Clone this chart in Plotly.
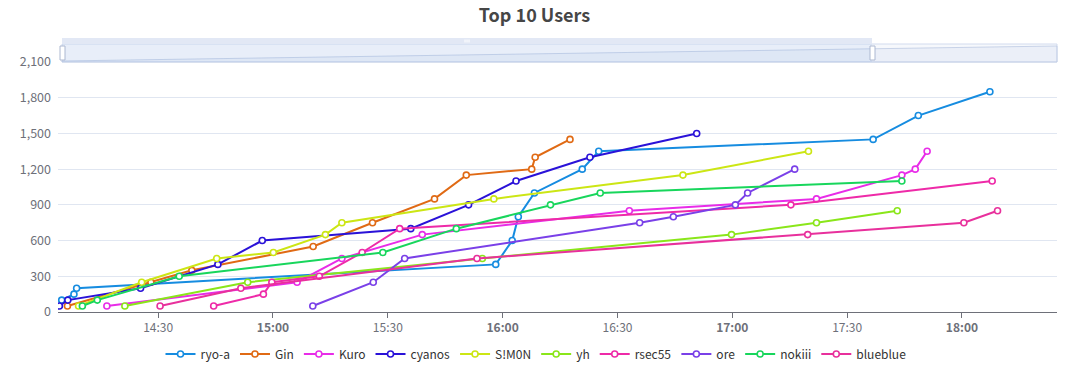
import plotly.graph_objects as go

DAY = "2024-01-01 "

names = ["ryo-a", "Gin", "Kuro", "cyanos", "S!M0N", "yh", "rsec55", "ore", "nokiii", "blueblue"]
colors = ["#168ce0", "#e06a14", "#e82ce8", "#2a12d8", "#cce614", "#8ae61a", "#ee2aa8", "#7a40e8", "#18d65c", "#e8309c"]

ryo_a_t = ["14:04:48", "14:08:00", "14:08:42", "15:58:12", "16:02:30", "16:04:06", "16:08:18", "16:20:48", "16:25:06", "17:36:48", "17:48:36", "18:07:18"]
ryo_a_v = [100, 150, 200, 400, 600, 800, 1000, 1200, 1350, 1450, 1650, 1850]

gin_t = ["14:06:18", "14:28:06", "14:38:48", "15:10:30", "15:26:00", "15:42:12", "15:50:30", "16:07:36", "16:08:30", "16:17:36"]
gin_v = [50, 250, 350, 550, 750, 950, 1150, 1200, 1300, 1450]

kuro_t = ["14:16:36", "15:06:18", "15:18:00", "15:39:00", "16:33:06", "17:22:00", "17:44:18", "17:47:48", "17:50:54"]
kuro_v = [50, 250, 450, 650, 850, 950, 1150, 1200, 1350]

cyanos_t = ["14:04:12", "14:06:24", "14:25:24", "14:45:36", "14:57:12", "15:36:00", "15:51:06", "16:03:30", "16:22:48", "16:50:42"]
cyanos_v = [50, 100, 200, 400, 600, 700, 900, 1100, 1300, 1500]

simon_t = ["14:09:12", "14:25:42", "14:45:18", "15:00:06", "15:13:42", "15:18:00", "15:57:42", "16:47:06", "17:19:54"]
simon_v = [50, 250, 450, 500, 650, 750, 950, 1150, 1350]

yh_t = ["14:21:18", "14:53:24", "15:54:42", "16:59:48", "17:22:00", "17:43:06"]
yh_v = [50, 250, 450, 650, 750, 850]

rsec55_t = ["14:44:30", "14:57:30", "14:59:42", "15:12:06", "15:23:18", "15:33:06", "17:15:18", "18:07:54"]
rsec55_v = [50, 150, 250, 300, 500, 700, 900, 1100]

ore_t = ["15:10:24", "15:26:12", "15:34:24", "16:35:48", "16:44:36", "17:00:48", "17:04:00", "17:16:18"]
ore_v = [50, 250, 450, 750, 800, 900, 1000, 1200]

nokiii_t = ["14:10:12", "14:14:06", "14:35:30", "15:28:42", "15:47:54", "16:12:30", "16:25:30", "17:44:18"]
nokiii_v = [50, 100, 300, 500, 700, 900, 1000, 1100]

blueblue_t = ["14:30:30", "14:51:36", "15:53:18", "17:19:42", "18:00:30", "18:09:18"]
blueblue_v = [50, 200, 450, 650, 750, 850]

series_t = [ryo_a_t, gin_t, kuro_t, cyanos_t, simon_t, yh_t, rsec55_t, ore_t, nokiii_t, blueblue_t]
series_v = [ryo_a_v, gin_v, kuro_v, cyanos_v, simon_v, yh_v, rsec55_v, ore_v, nokiii_v, blueblue_v]

tick_times = ["14:30", "15:00", "15:30", "16:00", "16:30", "17:00", "17:30", "18:00"]
tick_labels = ["14:30", "<b>15:00</b>", "15:30", "<b>16:00</b>", "16:30", "<b>17:00</b>", "17:30", "<b>18:00</b>"]
y_ticks = [0, 300, 600, 900, 1200, 1500, 1800, 2100]

FONT = "Noto Sans CJK SC, Noto Sans, sans-serif"

fig = go.Figure()
for n, c, ts, vs in zip(names, colors, series_t, series_v):
    fig.add_trace(go.Scatter(
        x=[DAY + t for t in ts], y=vs, name=n, mode="lines+markers",
        line=dict(color=c, width=2),
        marker=dict(symbol="circle", size=6, color="white", line=dict(color=c, width=1.6)),
    ))

# data zoom slider decoration (top)
def px_x(p):
    return (p - 58) / 999.0

def px_y(p):
    return (312 - p) / 250.0

shapes = [
    dict(type="rect", xref="paper", yref="paper", x0=px_x(62), x1=px_x(1057), y0=px_y(62), y1=px_y(44),
         fillcolor="rgba(246,248,252,1)", line=dict(color="#d2dbee", width=1), layer="below"),
    dict(type="path", xref="paper", yref="paper",
         path=f"M {px_x(62)},{px_y(61)} L {px_x(1057)},{px_y(46)} L {px_x(1057)},{px_y(62)} L {px_x(62)},{px_y(62)} Z",
         fillcolor="rgba(210,219,238,0.3)", line=dict(color="rgba(190,202,228,0.8)", width=1), layer="below"),
    dict(type="rect", xref="paper", yref="paper", x0=px_x(62), x1=px_x(872), y0=px_y(62), y1=px_y(44),
         fillcolor="rgba(135,175,230,0.12)", line=dict(width=0), layer="below"),
    dict(type="rect", xref="paper", yref="paper", x0=px_x(62), x1=px_x(872), y0=px_y(44), y1=px_y(38),
         fillcolor="#e2e8f5", line=dict(width=0)),
    dict(type="rect", xref="paper", yref="paper", x0=px_x(60), x1=px_x(65), y0=px_y(60), y1=px_y(46),
         fillcolor="white", line=dict(color="#acb8d1", width=1)),
    dict(type="rect", xref="paper", yref="paper", x0=px_x(870), x1=px_x(875), y0=px_y(60), y1=px_y(46),
         fillcolor="white", line=dict(color="#acb8d1", width=1)),
]
for dx in (-2, 0, 2):
    shapes.append(dict(type="line", xref="paper", yref="paper", x0=px_x(467 + dx), x1=px_x(467 + dx),
                       y0=px_y(42.5), y1=px_y(39.5), line=dict(color="white", width=1)))

fig.update_layout(
    width=1069, height=375,
    margin=dict(l=58, r=12, t=62, b=63, autoexpand=False),
    paper_bgcolor="white", plot_bgcolor="white",
    font=dict(family=FONT, size=12, color="#6e7079"),
    title=dict(text="<b>Top 10 Users</b>", x=0.5, xref="container", y=1 - 16 / 375, yanchor="middle",
               font=dict(family=FONT, size=18, color="#464646")),
    xaxis=dict(type="date", range=[DAY + "14:03:50", DAY + "18:24:50"],
               tickvals=[DAY + t for t in tick_times], ticktext=tick_labels,
               showgrid=False, showline=True, linecolor="#6e7079", linewidth=1,
               ticks="outside", ticklen=5, tickcolor="#6e7079", zeroline=False, automargin=False,
               tickfont=dict(size=12, color="#6e7079")),
    yaxis=dict(range=[0, 2100], tickvals=y_ticks, tickformat=",", showgrid=True, gridcolor="#e0e6f1",
               showline=False, zeroline=False, ticks="", automargin=False, ticklabelstandoff=6,
               tickfont=dict(size=12.5, color="#6e7079")),
    legend=dict(orientation="h", x=px_x(536), xanchor="center", y=px_y(354), yanchor="middle",
                font=dict(size=12, color="#333"), itemwidth=30, tracegroupgap=0,
                bgcolor="rgba(0,0,0,0)"),
    shapes=shapes,
    showlegend=True,
)

fig.write_html("out.html", config={"displayModeBar": False},
               post_script="document.body.style.margin='0';document.body.style.padding='0';")
